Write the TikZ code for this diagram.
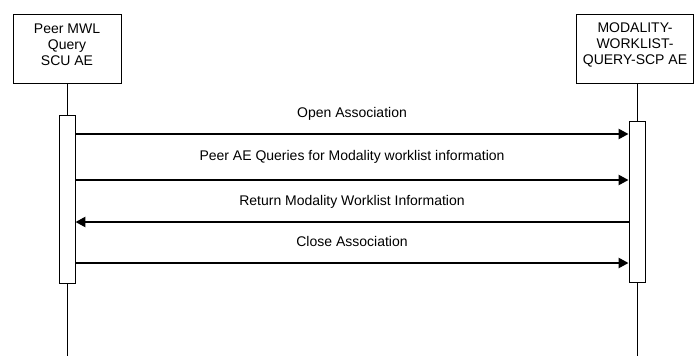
\documentclass[tikz,border=0pt]{standalone}
\usepackage{fontspec}
\setmainfont{Liberation Sans}
\usetikzlibrary{arrows.meta,positioning}
\tikzset{
  actor/.style={
    rectangle,
    draw=black,
    line width=0.9pt,
    fill=white,
    minimum height=69pt,
    inner sep=0pt
  },
  actortext/.style={
    align=center,
    inner sep=0pt,
    font=\fontsize{14}{16}\selectfont
  },
  activation/.style={
    rectangle,
    draw=black,
    line width=0.9pt,
    fill=white,
    minimum width=16pt,
    inner sep=0pt
  },
  lifeline/.style={
    line width=0.9pt,
    draw=black
  },
  msg/.style={
    -{Triangle[length=10pt,width=10pt]},
    line width=2.4pt,
    draw=black
  },
  msglabel/.style={
    font=\fontsize{14}{16}\selectfont,
    inner sep=0pt
  }
}

\begin{document}
\begin{tikzpicture}[x=1pt,y=1pt]
  \useasboundingbox (0,0) rectangle (695,-356);

  % the two application entities
  \node[actor, minimum width=108pt,
    label={[actortext, yshift=4pt]center:Peer MWL\\Query\\SCU AE}] (scu) at (67,-48.5) {};
  \node[actor, minimum width=117pt,
    label={[actortext, yshift=4pt]center:MODALITY-\\WORKLIST-\\QUERY-SCP AE}] (scp) at (635,-48.5) {};

  \coordinate (scuend) at (67,-356);
  \coordinate (scpend) at (637,-356);
  \draw[lifeline] (scu.south) -- (scuend);
  \draw[lifeline] (scp.south -| scpend) -- (scpend);

  \node[activation, minimum height=168pt] (scuact) at (67,-199) {};
  \node[activation, minimum height=161pt] (scpact) at (637,-201.5) {};

  % messages
  \draw[msg] (scuact.east |- 0,-134) -- (scpact.west |- 0,-134)
    node[msglabel, midway, yshift=20pt] {Open Association};
  \draw[msg] (scuact.east |- 0,-180) -- (scpact.west |- 0,-180)
    node[msglabel, midway, yshift=23pt] {Peer AE Queries for Modality worklist information};
  \draw[msg] (scpact.west |- 0,-222) -- (scuact.east |- 0,-222)
    node[msglabel, midway, yshift=20pt] {Return Modality Worklist Information};
  \draw[msg] (scuact.east |- 0,-263) -- (scpact.west |- 0,-263)
    node[msglabel, midway, yshift=22pt] {Close Association};
\end{tikzpicture}
\end{document}
